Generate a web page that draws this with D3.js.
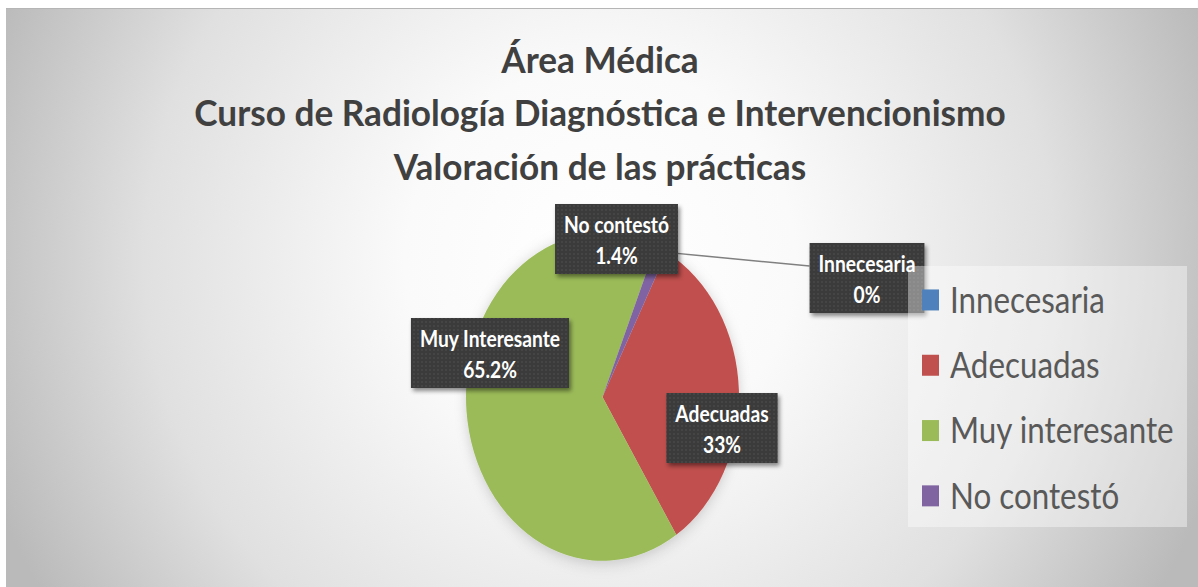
<!DOCTYPE html>
<html>
<head>
<meta charset="utf-8">
<script src="https://cdn.jsdelivr.net/npm/d3@7"></script>
<style>
  body { margin: 0; background: #fff; }
  svg { display: block; }
</style>
</head>
<body>
<div id="chart"></div>
<script>
// datos del gráfico
const categories = ["Innecesaria", "Adecuadas", "Muy interesante", "No contestó"];
const labelNames = ["Innecesaria", "Adecuadas", "Muy Interesante", "No contestó"];
const values = [0, 33, 65.2, 1.4];
const valueLabels = ["0%", "33%", "65.2%", "1.4%"];
const colors = ["#4f81bd", "#c0504d", "#9bbb59", "#8064a2"];
const titleLines = [
	"Área Médica",
	"Curso de Radiología Diagnóstica e Intervencionismo",
	"Valoración de las prácticas"
];

const width = 1198;
const height = 587;
const FONT = "Lato, Carlito, 'Open Sans', sans-serif";
const CAP = 0.7165; // altura de mayúsculas de Lato
const SY = 1.2; // la imagen original está estirada en vertical

const svg = d3.select("#chart")
	.append("svg")
	.attr("width", width)
	.attr("height", height);

const defs = svg.append("defs");

// fondo con degradado radial
const grad = defs.append("radialGradient")
	.attr("id", "bg")
	.attr("gradientUnits", "userSpaceOnUse")
	.attr("cx", 600).attr("cy", 260).attr("r", 650);
[[0, "#ffffff"], [0.3, "#fafafa"], [0.7, "#e0e0e0"], [1, "#bababa"]].forEach(s => {
	grad.append("stop").attr("offset", s[0]).attr("stop-color", s[1]);
});

// textura de puntos de las etiquetas
const pat = defs.append("pattern")
	.attr("id", "dots")
	.attr("patternUnits", "userSpaceOnUse")
	.attr("width", 4).attr("height", 4);
pat.append("rect").attr("width", 4).attr("height", 4).attr("fill", "#3a3a3a");
pat.append("circle").attr("cx", 2).attr("cy", 2).attr("r", 0.7).attr("fill", "#575757");

const shadow = defs.append("filter").attr("id", "shadow")
	.attr("x", "-20%").attr("y", "-20%").attr("width", "150%").attr("height", "150%");
shadow.append("feDropShadow")
	.attr("dx", 2).attr("dy", 3).attr("stdDeviation", 2)
	.attr("flood-color", "#000").attr("flood-opacity", 0.45);

const pieShadow = defs.append("filter").attr("id", "pieShadow")
	.attr("x", "-20%").attr("y", "-20%").attr("width", "140%").attr("height", "140%");
pieShadow.append("feDropShadow")
	.attr("dx", 0).attr("dy", 2).attr("stdDeviation", 6)
	.attr("flood-color", "#000").attr("flood-opacity", 0.18);

svg.append("rect")
	.attr("x", 6).attr("y", 8)
	.attr("width", width - 6).attr("height", height - 8)
	.attr("fill", "url(#bg)");
svg.append("line")
	.attr("x1", 6).attr("x2", width).attr("y1", 8.5).attr("y2", 8.5)
	.attr("stroke", "#b5b5b5");

// calcula el tamaño de letra para un ancho dado
function fitSize(text, weight, target) {
	const t = svg.append("text")
		.attr("font-family", FONT)
		.attr("font-weight", weight)
		.attr("font-size", 100)
		.text(text);
	const w = t.node().getComputedTextLength();
	t.remove();
	return 100 * target / w;
}

// título
const titleSize = fitSize(titleLines[1], "bold", 812);
const titleSY = 25.5 / (CAP * titleSize);
const titleBase = [73, 126, 180];
svg.append("g").selectAll("text")
	.data(titleLines)
	.enter().append("text")
	.attr("transform", (d, i) => `translate(600,${titleBase[i]}) scale(1,${titleSY})`)
	.attr("text-anchor", "middle")
	.attr("font-family", FONT)
	.attr("font-weight", "bold")
	.attr("font-size", titleSize)
	.attr("fill", "#404040")
	.text(d => d);

// pastel (elipse)
const cx = 602.5, cy = 397, R = 136.5;
const a0 = 28 * Math.PI / 180;
const pie = d3.pie().sort(null).value(d => d)
	.startAngle(a0).endAngle(a0 + 2 * Math.PI);
const arcs = pie(values);
const arc = d3.arc().innerRadius(0).outerRadius(R);

svg.append("g")
	.attr("transform", `translate(${cx},${cy}) scale(1,${SY})`)
	.attr("filter", "url(#pieShadow)")
	.selectAll("path")
	.data(arcs)
	.enter().append("path")
	.attr("d", arc)
	.attr("fill", (d, i) => colors[i]);

// etiquetas de datos
const labelSize = fitSize("No contestó", "bold", 105);
const labelSY = 16 / (CAP * labelSize);
const labelPos = [
	{ x: 867, y: 243 },
	{ x: 722, y: 393 },
	{ x: 490, y: 318 },
	{ x: 616.5, y: 204 }
];
const boxH = 70;

// línea guía de la porción 0%
const lead = arcs[0];
const lx = cx + R * Math.sin(lead.startAngle);
const ly = cy - SY * R * Math.cos(lead.startAngle);

const labels = svg.append("g");
const boxes = labels.selectAll("g")
	.data(arcs)
	.enter().append("g");

boxes.each(function(d, i) {
	const g = d3.select(this);
	const p = labelPos[i];
	const t1 = g.append("text")
		.attr("transform", `translate(${p.x},${p.y + 29}) scale(1,${labelSY})`)
		.attr("text-anchor", "middle")
		.attr("font-family", FONT)
		.attr("font-weight", "bold")
		.attr("font-size", labelSize)
		.attr("fill", "#fff")
		.text(labelNames[i]);
	g.append("text")
		.attr("transform", `translate(${p.x},${p.y + 60}) scale(1,${labelSY})`)
		.attr("text-anchor", "middle")
		.attr("font-family", FONT)
		.attr("font-weight", "bold")
		.attr("font-size", labelSize)
		.attr("fill", "#fff")
		.text(valueLabels[i]);
	const w = t1.node().getComputedTextLength() + 18;
	d.box = { x: p.x - w / 2, y: p.y, w: w };
	g.insert("rect", "text")
		.attr("x", p.x - w / 2).attr("y", p.y)
		.attr("width", w).attr("height", boxH)
		.attr("fill", "url(#dots)")
		.attr("filter", "url(#shadow)");
});

const b0 = arcs[0].box;
labels.insert("line", "g")
	.attr("x1", lx).attr("y1", ly)
	.attr("x2", b0.x).attr("y2", b0.y + 23)
	.attr("stroke", "#808080")
	.attr("stroke-width", 1.5);

// leyenda
const legendSize = fitSize("Innecesaria", "normal", 155);
const legendSY = 25.7 / (CAP * legendSize);
const legend = svg.append("g");
legend.append("rect")
	.attr("x", 908).attr("y", 266)
	.attr("width", 279).attr("height", 261)
	.attr("fill", "#fff")
	.attr("fill-opacity", 0.4);

const rowY = d3.scaleBand()
	.domain(categories)
	.range([267.3, 528.5]);

const items = legend.selectAll("g.item")
	.data(categories)
	.enter().append("g")
	.attr("class", "item");

items.append("rect")
	.attr("x", 922)
	.attr("y", d => rowY(d) + rowY.bandwidth() / 2 - 10.5)
	.attr("width", 17).attr("height", 21)
	.attr("fill", (d, i) => colors[i]);

items.append("text")
	.attr("transform", d => `translate(950,${rowY(d) + rowY.bandwidth() / 2 + 12.8}) scale(1,${legendSY})`)
	.attr("font-family", FONT)
	.attr("font-size", legendSize)
	.attr("fill", "#595959")
	.text(d => d);
</script>
</body>
</html>
